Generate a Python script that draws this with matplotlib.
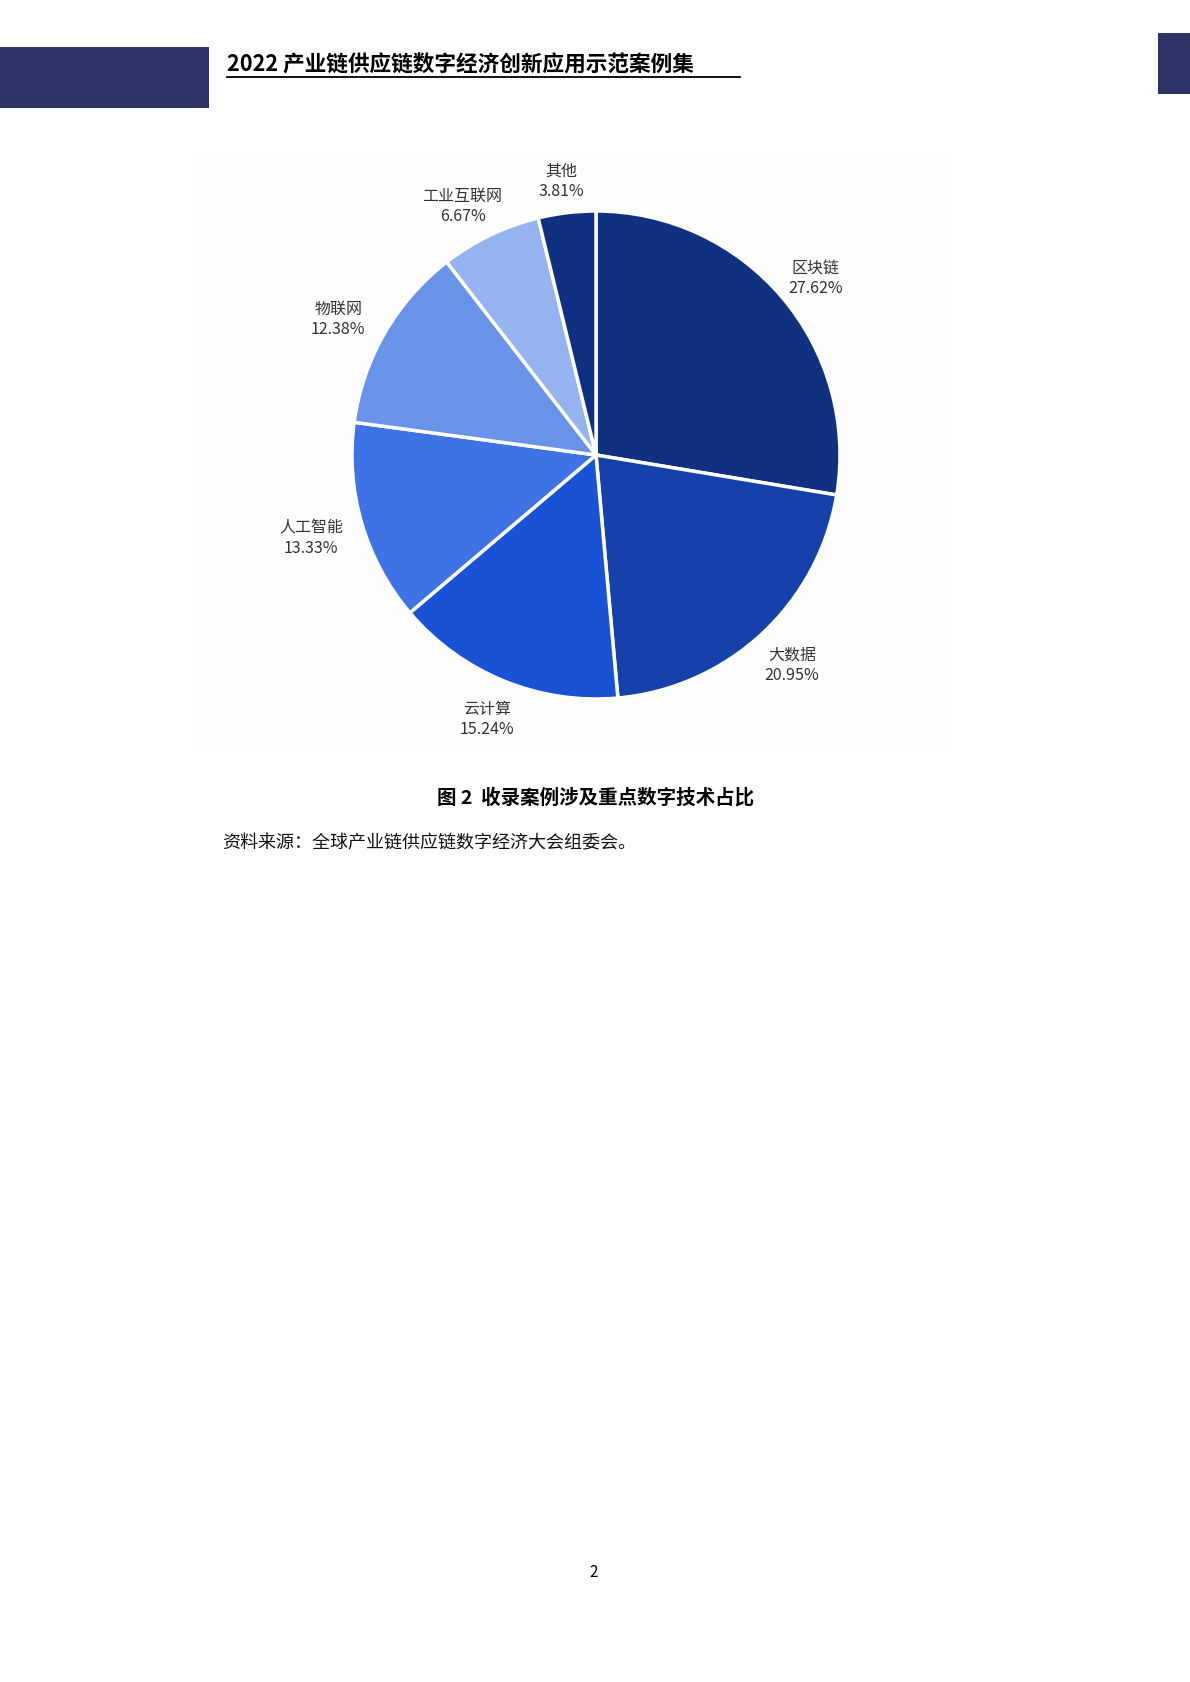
import matplotlib.pyplot as plt
import numpy as np

plt.rcParams['font.family'] = ['Noto Sans CJK SC', 'DejaVu Sans']

# data
categories = ['区块链', '大数据', '云计算', '人工智能', '物联网', '工业互联网', '其他']
shares = [27.62, 20.95, 15.24, 13.33, 12.38, 6.67, 3.81]
colors = ['#103180', '#1640AA', '#1A52D6', '#3F72E4', '#6993E8', '#95B3F0', '#0F3080']

HEADER = '2022 产业链供应链数字经济创新应用示范案例集'
CAPTION = '图 2  收录案例涉及重点数字技术占比'
SOURCE = '资料来源：全球产业链供应链数字经济大会组委会。'
PAGE_NO = '2'

W, H = 1190, 1683
fig = plt.figure(figsize=(W / 100, H / 100), dpi=100)

# page layer in pixel coordinates (y down)
page = fig.add_axes([0, 0, 1, 1])
page.set_xlim(0, W)
page.set_ylim(H, 0)
page.axis('off')

page.add_patch(plt.Rectangle((0, 48), 209, 61, color='#2E3566', lw=0))
page.add_patch(plt.Rectangle((1158, 34), 32, 61, color='#2E3566', lw=0))
page.text(227, 65, HEADER, fontsize=15.6, fontweight='bold', va='center', ha='left', color='black')
page.plot([227, 740], [78, 78], color='black', lw=1.3)
page.add_patch(plt.Rectangle((193, 153), 762, 604, color='#fefefe', lw=0))

page.text(596, 798, CAPTION, fontsize=14, fontweight='bold', ha='center', va='center')
page.text(222, 843, SOURCE, fontsize=13, ha='left', va='center', color='#111111')
page.text(594, 1573, PAGE_NO, fontsize=11, ha='center', va='center')

# pie: centre (596, 456) px, radius 244 px
cx, cy, r = 596, 456, 244
half = 1.5 * r
ax = fig.add_axes([(cx - half) / W, (H - cy - half) / H, 2 * half / W, 2 * half / H])

wedges, _ = ax.pie(shares, colors=colors, startangle=90, counterclock=False,
                   radius=1.0, wedgeprops=dict(edgecolor='white', linewidth=2.5))
ax.set_xlim(-1.5, 1.5)
ax.set_ylim(-1.5, 1.5)
ax.set_aspect('equal')
ax.axis('off')

for w, name, val in zip(wedges, categories, shares):
    mid = np.deg2rad((w.theta1 + w.theta2) / 2)
    x, y = 1.18 * np.cos(mid), 1.15 * np.sin(mid) - 0.015
    if x < -0.3 and y > -0.8:
        x -= 0.035  # left-hand labels sit a little further out
    ax.text(x, y, f'{name}\n{val:.2f}%', ha='center', va='center',
            fontsize=11.5, color='#333333', linespacing=1.25)

fig.savefig('out.png', dpi=100)
